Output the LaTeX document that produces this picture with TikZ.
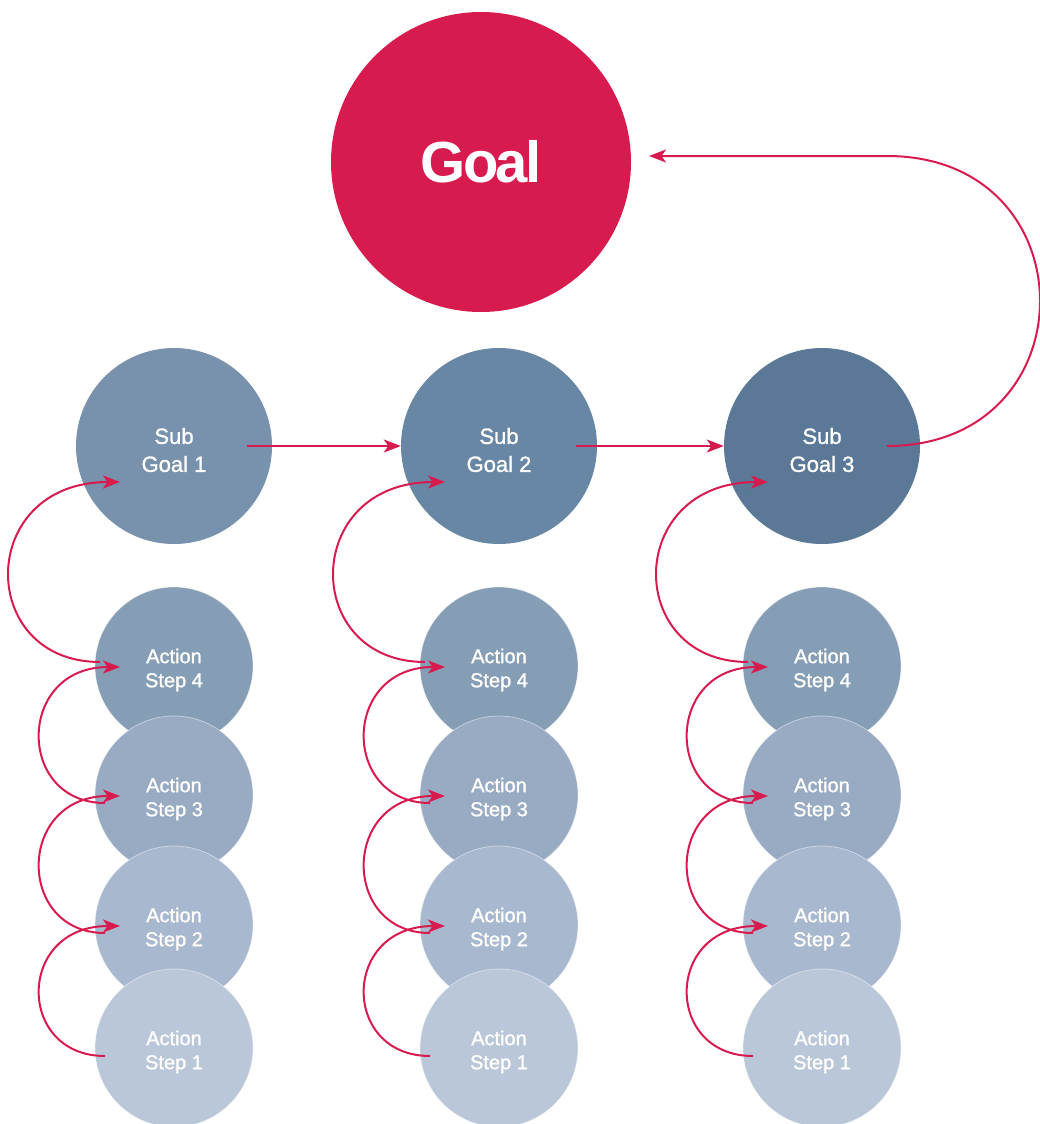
\documentclass[tikz,border=0pt]{standalone}
\usepackage{fontspec}
\setmainfont{Liberation Sans}
\newfontfamily\goalfont[LetterSpace=-5]{Liberation Sans}
\newfontfamily\medfont[FakeBold=1.2]{Liberation Sans}
\usetikzlibrary{arrows.meta}
\definecolor{goalred}{HTML}{D81B4E}
\definecolor{sgA}{RGB}{120,145,172}
\definecolor{sgB}{RGB}{104,135,164}
\definecolor{sgC}{RGB}{91,121,151}
\definecolor{stA}{RGB}{185,199,216}
\definecolor{stB}{RGB}{168,184,206}
\definecolor{stC}{RGB}{152,171,195}
\definecolor{stD}{RGB}{134,157,182}
\begin{document}
\begin{tikzpicture}[x=1pt,y=-1pt,
  goalc/.style={circle,fill=goalred,minimum size=300pt,inner sep=0pt,text=white,
    font=\goalfont\bfseries\fontsize{58}{58}\selectfont},
  subc/.style={circle,minimum size=196pt,inner sep=0pt},
  subtxt/.style={text=white,align=center,inner sep=0pt,
    font=\medfont\fontsize{22}{28}\selectfont},
  actc/.style={circle,minimum size=158pt,inner sep=0pt,
    draw=white,draw opacity=0.45,line width=0.8pt},
  acttxt/.style={text=white,align=center,inner sep=0pt,
    font=\medfont\fontsize{20}{24}\selectfont},
  arr/.style={draw=goalred,line width=2pt,
    -{Stealth[length=17pt,width=13pt,inset=4.5pt]}}]
\useasboundingbox (0,0) rectangle (1040,1124);
\clip (0,0) rectangle (1040,1124);

\node[goalc] (goal) at (481,162) {Goal};

\node[subc,fill=sgA] (sg1) at (174,446) {};
\node[subc,fill=sgB] (sg2) at (499,446) {};
\node[subc,fill=sgC] (sg3) at (822,446) {};
\foreach \c in {1,2,3}{
  \node[subtxt] (sg\c t) at ([yshift=-4pt]sg\c.center) {Sub\\Goal \c};
}

\foreach \c/\x in {1/174,2/499,3/822}{
  \node[actc,fill=stD] (a\c4) at (\x,666) {};
  \node[acttxt] (a\c4t) at ([yshift=-4pt]a\c4.center) {Action\\Step 4};
  \node[actc,fill=stC] (a\c3) at (\x,795) {};
  \node[acttxt] (a\c3t) at ([yshift=-4pt]a\c3.center) {Action\\Step 3};
  \node[actc,fill=stB] (a\c2) at (\x,925) {};
  \node[acttxt] (a\c2t) at ([yshift=-4pt]a\c2.center) {Action\\Step 2};
  \node[actc,fill=stA] (a\c1) at (\x,1048) {};
  \node[acttxt] (a\c1t) at ([yshift=-4pt]a\c1.center) {Action\\Step 1};
}

% horizontal arrows between sub goals
\coordinate (h1) at ([shift={(73,0)}]sg1.center);
\coordinate (h2) at ([shift={(77,0)}]sg2.center);
\draw[arr] (h1) -- (sg2.west);
\draw[arr] (h2) -- (sg3.west);

% sub goal 3 back to goal
\coordinate (g3s) at ([shift={(65,0)}]sg3.center);
\coordinate (g3top) at ([shift={(65,-290)}]sg3.center);
\coordinate (goalin) at ([shift={(168,-6)}]goal.center);
\draw[arr] (g3s) .. controls +(204,0) and +(204,0) .. (g3top) -- (goalin);

% loops in each column
\foreach \c in {1,2,3}{
  \coordinate (t\c) at ([shift={(-54,36)}]sg\c.center);
  \coordinate (s\c4) at ([shift={(-74,-4)}]a\c4.center);
  \draw[arr] (s\c4) .. controls +(-124,0) and +(-144,0) .. (t\c);
  \foreach \k/\n in {1/2,2/3,3/4}{
    \coordinate (f\c\k) at ([shift={(-69,8)}]a\c\k.center);
    \coordinate (e\c\n) at ([shift={(-54,1)}]a\c\n.center);
    \draw[arr] (f\c\k) .. controls +(-89,0) and +(-104,0) .. (e\c\n);
  }
}
\end{tikzpicture}
\end{document}
